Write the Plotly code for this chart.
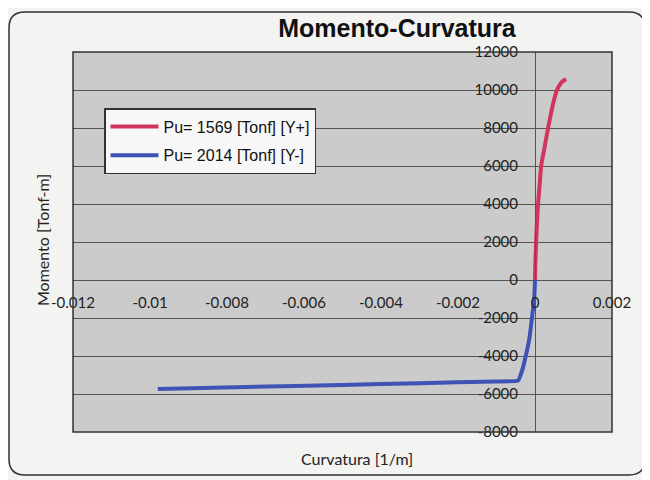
import plotly.graph_objects as go

# Curva Momento-Curvatura
curv_pos = [0, 0.00001, 0.00003, 0.00005, 0.00008, 0.00012, 0.00016,
            0.00025, 0.00034, 0.00044, 0.00051, 0.00057, 0.00065, 0.00073, 0.00081]
mom_pos = [0, 1000, 2000, 3000, 4000, 5000, 6000,
           7000, 8000, 9000, 9600, 10000, 10300, 10480, 10560]

curv_neg = [0, -0.00002, -0.00008, -0.00014, -0.00024, -0.00034, -0.00044,
            -0.001, -0.003, -0.005, -0.0075, -0.0098]
mom_neg = [0, -1000, -2000, -3000, -4000, -4800, -5300,
           -5340, -5430, -5520, -5630, -5740]

x_ticks = [-0.012, -0.01, -0.008, -0.006, -0.004, -0.002, 0, 0.002]
x_labels = ['-0.012', '-0.01', '-0.008', '-0.006', '-0.004', '-0.002', '0', '0.002']
y_ticks = [-8000, -6000, -4000, -2000, 0, 2000, 4000, 6000, 8000, 10000, 12000]
y_labels = ['-8000', '-6000', '-4000', '-2000', '0', '2000', '4000', '6000',
            '8000', '10000', '12000']

x_range = [-0.012, 0.002]
y_range = [-8000, 12000]

# la pagina tiene 8px de margen en el body
OFF = 8
W, H = 650 - OFF, 480 - OFF
L, R, T, B = 73 - OFF, 38, 52 - OFF, 48


def px(sx):
    # pixel de pantalla -> coordenada paper x
    return (sx - OFF - L) / (W - L - R)


def py(sy):
    return (H - B - (sy - OFF)) / (H - T - B)


fig = go.Figure()

fig.add_trace(go.Scatter(
    x=curv_pos, y=mom_pos, mode='lines',
    line=dict(color='#d2345f', width=4, shape='spline', smoothing=0.6),
    name='Pu= 1569 [Tonf] [Y+]', legendgroup='pos'
))
fig.add_trace(go.Scatter(
    x=curv_neg, y=mom_neg, mode='lines',
    line=dict(color='#3f52b5', width=4, shape='spline', smoothing=0.3),
    name='Pu= 2014 [Tonf] [Y-]', legendgroup='neg'
))

# marco redondeado del area del grafico
x0, x1, y0, y1, r = 9, 645, 12, 475, 16
path = (f"M {px(x0 + r)},{py(y0)} L {px(x1 - r)},{py(y0)} "
        f"Q {px(x1)},{py(y0)} {px(x1)},{py(y0 + r)} "
        f"L {px(x1)},{py(y1 - r)} Q {px(x1)},{py(y1)} {px(x1 - r)},{py(y1)} "
        f"L {px(x0 + r)},{py(y1)} Q {px(x0)},{py(y1)} {px(x0)},{py(y1 - r)} "
        f"L {px(x0)},{py(y0 + r)} Q {px(x0)},{py(y0)} {px(x0 + r)},{py(y0)} Z")

fig.update_layout(
    width=W, height=H,
    margin=dict(l=L, r=R, t=T, b=B, autoexpand=False),
    paper_bgcolor='#f3f3f1',
    plot_bgcolor='#cbcbcb',
    title=dict(text='<b>Momento-Curvatura</b>', x=(397 - OFF) / W,
               y=1 - (28 - OFF) / H, xanchor='center', yanchor='middle',
               font=dict(family='Liberation Sans', size=25, color='#111')),
    xaxis=dict(range=x_range, tickvals=x_ticks, ticktext=x_labels,
               showgrid=False, zeroline=False, automargin=False,
               anchor='free', position=py(281), showline=False,
               tickfont=dict(family='Lato', size=15, color='#222'),
               ticks='', ticklabelstandoff=11),
    yaxis=dict(range=y_range, tickvals=y_ticks, ticktext=y_labels,
               showgrid=True, gridcolor='#555', automargin=False,
               gridwidth=1, zeroline=False, anchor='free', position=px(535),
               showline=True, linecolor='#555', linewidth=1,
               tickfont=dict(family='Lato', size=15, color='#222'),
               ticks='', ticklabelstandoff=14),
    legend=dict(x=px(104), y=py(108), xanchor='left', yanchor='top',
                bgcolor='#f7f7f7', bordercolor='#333', borderwidth=1.5,
                font=dict(family='Liberation Sans', size=16, color='#111'),
                itemwidth=48, tracegroupgap=5),
    shapes=[
        dict(type='path', xref='paper', yref='paper', path=path,
             line=dict(color='#333', width=1.5), layer='below'),
        dict(type='rect', xref='paper', yref='paper', x0=0, x1=1, y0=0, y1=1,
             line=dict(color='#333', width=1.5)),
    ],
    annotations=[
        dict(text='Momento [Tonf-m]', xref='paper', yref='paper',
             x=px(42), y=py(240), textangle=-90, showarrow=False,
             xanchor='center', yanchor='middle',
             font=dict(family='Lato', size=16, color='#222')),
        dict(text='Curvatura [1/m]', xref='paper', yref='paper',
             x=px(357), y=py(458), showarrow=False,
             xanchor='center', yanchor='middle',
             font=dict(family='Lato', size=16, color='#222')),
    ],
)

fig.write_html("out.html")
